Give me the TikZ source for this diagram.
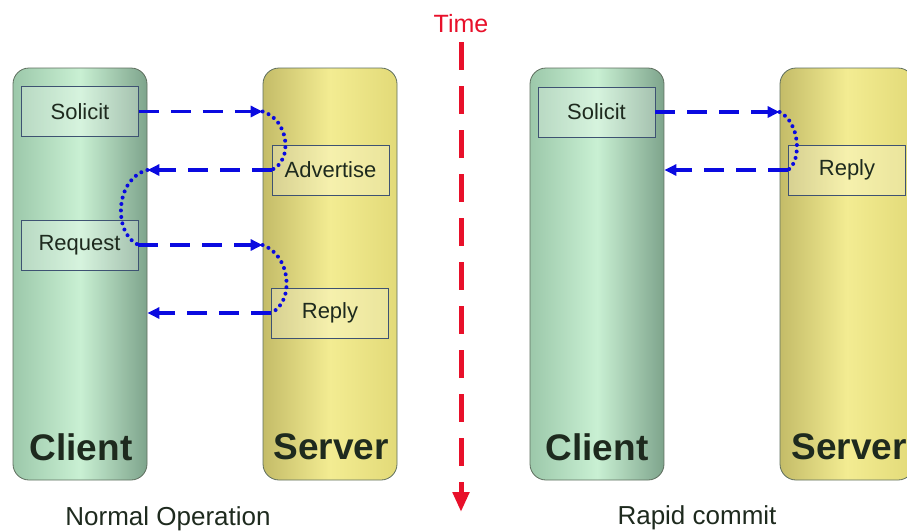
\documentclass[tikz,border=0pt]{standalone}
\usepackage{fontspec}
\setmainfont{Liberation Sans}
\usetikzlibrary{arrows.meta, positioning, calc}
\definecolor{cCliL}{HTML}{9CC8AA}
\definecolor{cCliM}{HTML}{C9F0D3}
\definecolor{cCliR}{HTML}{7EA48C}
\definecolor{cSrvL}{HTML}{C4BC68}
\definecolor{cSrvM}{HTML}{F3EC92}
\definecolor{cSrvR}{HTML}{E2DA78}
\definecolor{cEdge}{HTML}{5E6E5E}
\definecolor{cBox}{HTML}{3E5272}
\definecolor{cMsg}{HTML}{0A0AE0}
\definecolor{cTime}{HTML}{E8102A}
\definecolor{cInk}{HTML}{1E2A1E}
\tikzset{
  pillar/.style={rectangle, rounded corners=16pt, draw=cEdge, line width=0.8pt,
    minimum width=134pt, minimum height=412pt},
  client/.style={pillar, left color=cCliL, right color=cCliR, middle color=cCliM},
  server/.style={pillar, left color=cSrvL, right color=cSrvR, middle color=cSrvM},
  msgbox/.style={rectangle, draw=cBox, line width=0.8pt, fill=white, fill opacity=0.25,
    text opacity=1, text=cInk, minimum width=117pt, minimum height=50pt,
    font=\fontsize{22}{26}\selectfont},
  role/.style={font=\fontsize{37}{40}\selectfont\bfseries, text=cInk},
  caption/.style={font=\fontsize{26}{30}\selectfont, inner sep=2pt, text=cInk},
  msg/.style={draw=cMsg, line width=3.6pt, dash pattern=on 20pt off 12pt,
    -{Triangle[length=12pt, width=11pt]}},
  turn/.style={draw=cMsg, line width=4pt, line cap=round, dash pattern=on 0pt off 6.5pt},
  timeline/.style={draw=cTime, line width=5pt, dash pattern=on 28pt off 16pt,
    -{Triangle[length=20pt, width=16pt]}},
}
\begin{document}
\begin{tikzpicture}[x=1pt, y=-1pt]
\useasboundingbox (0,0) rectangle (907,531);
\clip (0,0) rectangle (907,531);

% normal operation
\node[client] (cliN) at (80,274) {};
\node[server] (srvN) at (330,274) {};
\node[role] (cliNname) at (81,447) {Client};
\node[role] (srvNname) at (331,447) {Server};
\node[msgbox] (solN) at (80,111.5) {Solicit};
\node[msgbox] (advN) at (330.5,170) {Advertise};
\node[msgbox] (reqN) at (79.5,245) {Request};
\node[msgbox] (repN) at (330,313) {Reply};
\node[caption, anchor=base] (capN) at (168,525) {Normal Operation};

\draw[msg] (solN.east) -- (solN.east -| srvN.west) coordinate (t1);
\draw[turn] (t1) .. controls +(26,8) and +(22,-10) .. (advN.west);
\draw[msg] (advN.west) -- (advN.west -| cliN.east) coordinate (t2);
\draw[turn] (t2) .. controls +(-32,8) and +(-26,-12) .. (reqN.east);
\draw[msg] (reqN.east) -- (reqN.east -| srvN.west) coordinate (t3);
\draw[turn] (t3) .. controls +(28,10) and +(24,-12) .. (repN.west);
\draw[msg] (repN.west) -- (repN.west -| cliN.east);

% time
\node[caption, text=cTime, font=\fontsize{25}{28}\selectfont] (time) at (461,24) {Time};
\coordinate (tEnd) at (461,512);
\draw[timeline, shorten <=7pt] (time.south) -- (tEnd);

% rapid commit
\node[client] (cliR) at (597,274) {};
\node[server] (srvR) at (847,274) {};
\node[role] (cliRname) at (597,447) {Client};
\node[role] (srvRname) at (849,447) {Server};
\node[msgbox] (solR) at (596.5,112) {Solicit};
\node[msgbox] (repR) at (847,170) {Reply};
\node[caption, anchor=base] (capR) at (697,524) {Rapid commit};

\draw[msg] (solR.east) -- (solR.east -| srvR.west) coordinate (t4);
\draw[turn] (t4) .. controls +(20,10) and +(14,-10) .. (repR.west);
\draw[msg] (repR.west) -- (repR.west -| cliR.east);
\end{tikzpicture}
\end{document}
